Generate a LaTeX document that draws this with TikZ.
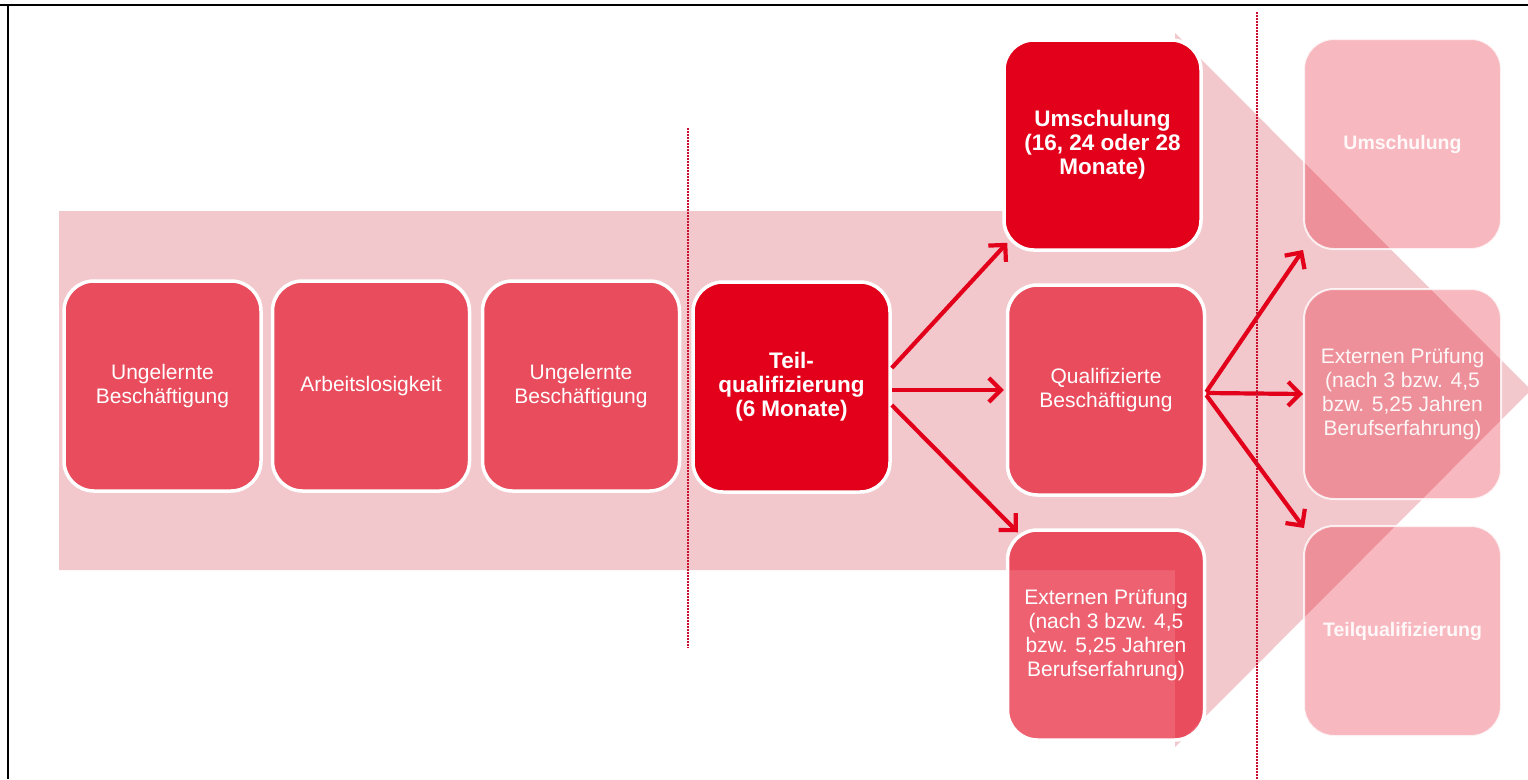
\documentclass[tikz,border=0pt]{standalone}
\usepackage{fontspec}
\setmainfont{Liberation Sans}
\usetikzlibrary{arrows.meta,calc}
\definecolor{band}{HTML}{F2C8CC}
\definecolor{dred}{HTML}{E2001A}
\definecolor{dotred}{HTML}{C8102E}
\begin{document}
\begin{tikzpicture}[x=1pt,y=-1pt,
  box/.style={rounded corners=30pt, draw=white, line width=3.5pt,
    minimum width=197pt, minimum height=210pt, align=center, text=white,
    inner sep=0pt, font=\fontsize{21}{24}\selectfont},
  midbox/.style={box, fill=dred, fill opacity=0.62, text opacity=1},
  darkbox/.style={box, fill=dred, font=\fontsize{22.5}{24}\selectfont\bfseries},
  palebox/.style={box, line width=2pt, draw opacity=0.8, fill=dred, fill opacity=0.28, text opacity=0.92},
  flow/.style={draw=dred, line width=4.2pt, -{Straight Barb[length=12pt,width=24pt]}},
  sep/.style={draw=dotred, line width=2.2pt, dash pattern=on 2pt off 1pt},
  frame/.style={draw=black, line width=2.5pt}]
\useasboundingbox (0,0) rectangle (1528,779);
% background arrow
\fill[band] (59,211) -- (1175,211) -- (1175,33) -- (1531,390) -- (1175,747)
  -- (1175,570) -- (59,570) -- cycle;
% boxes
\node[midbox] (b1) at (162.5,386) {Ungelernte\\Beschäftigung};
\node[midbox] (b2) at (371,386) {Arbeitslosigkeit};
\node[midbox] (b3) at (581,386) {Ungelernte\\Beschäftigung};
\node[darkbox] (teil) at (791.5,387) {Teil-\\qualifizierung\\(6 Monate)};
\node[darkbox] (ums) at (1102.5,145) {Umschulung\\(16, 24 oder 28\\Monate)};
\node[midbox] (qual) at (1106,390) {Qualifizierte\\Beschäftigung};
\node[midbox] (ext) at (1106,635) {Externen Prüfung\\(nach 3 bzw. 4,5\\bzw. 5,25 Jahren\\Berufserfahrung)};
\node[palebox, font=\fontsize{19.5}{24}\selectfont\bfseries] (rums) at (1402.5,144) {Umschulung};
\node[palebox] (rext) at (1402.5,394) {Externen Prüfung\\(nach 3 bzw. 4,5\\bzw. 5,25 Jahren\\Berufserfahrung)};
\node[palebox, font=\fontsize{19.5}{24}\selectfont\bfseries] (rteil) at (1402.5,631) {Teilqualifizierung};
% connectors
\draw[flow] ($(teil.east)+(0,-19)$) -- ($(ums.south west)+(5,-9)$);
\draw[flow] ($(teil.east)+(0,3)$) -- ($(qual.west)+(-2,0)$);
\draw[flow] ($(teil.east)+(0,18)$) -- ($(ext.north west)+(12,4)$);
\draw[flow] ($(qual.east)+(0,2)$) -- (rums.south west);
\draw[flow] ($(qual.east)+(0,3)$) -- (rext.west);
\draw[flow] ($(qual.east)+(0,5)$) -- ($(rteil.north west)+(1,3)$);
% separators
\coordinate (s1a) at (688,128); \coordinate (s1b) at (688,648);
\coordinate (s2a) at (1257,12); \coordinate (s2b) at (1257,779);
\draw[sep] (s1a) -- (s1b);
\draw[sep] (s2a) -- (s2b);
% frame
\coordinate (fa) at (8,779); \coordinate (fb) at (8,5); \coordinate (fc) at (1528,5); \coordinate (fd) at (0,5);
\draw[frame] (fa) -- (fb);
\draw[frame] (fd) -- (fc);
\end{tikzpicture}
\end{document}
